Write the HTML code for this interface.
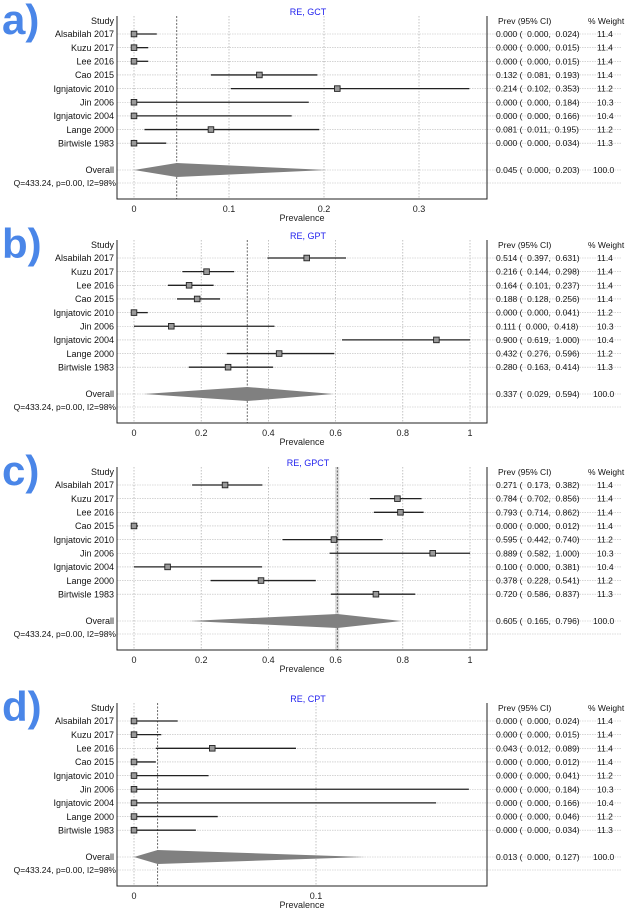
<!DOCTYPE html>
<html><head><meta charset="utf-8"><style>
html,body{margin:0;padding:0;background:#fff;}
svg{display:block;font-family:"Liberation Sans",sans-serif;}
.pre{white-space:pre;}
</style></head><body>
<svg id="c" width="625" height="911" viewBox="0 0 625 911" xmlns="http://www.w3.org/2000/svg"></svg>
<script>
const studies=["Alsabilah 2017","Kuzu 2017","Lee 2016","Cao 2015","Ignjatovic 2010","Jin 2006","Ignjatovic 2004","Lange 2000","Birtwisle 1983"];
const weights=["11.4","11.4","11.4","11.4","11.2","10.3","10.4","11.2","11.3"];
const panelLetters=["a)","b)","c)","d)"];
const panelTitles=["RE, GCT","RE, GPT","RE, GPCT","RE, CPT"];
const gctEst=[0,0,0,0.132,0.214,0,0,0.081,0];
const gctLo=[0,0,0,0.081,0.102,0,0,0.011,0];
const gctHi=[0.024,0.015,0.015,0.193,0.353,0.184,0.166,0.195,0.034];
const gctPooled=[0.045,0,0.203];
const gptEst=[0.514,0.216,0.164,0.188,0,0.111,0.9,0.432,0.28];
const gptLo=[0.397,0.144,0.101,0.128,0,0,0.619,0.276,0.163];
const gptHi=[0.631,0.298,0.237,0.256,0.041,0.418,1,0.596,0.414];
const gptPooled=[0.337,0.029,0.594];
const gpctEst=[0.271,0.784,0.793,0,0.595,0.889,0.1,0.378,0.72];
const gpctLo=[0.173,0.702,0.714,0,0.442,0.582,0,0.228,0.586];
const gpctHi=[0.382,0.856,0.862,0.012,0.74,1,0.381,0.541,0.837];
const gpctPooled=[0.605,0.165,0.796];
const cptEst=[0,0,0.043,0,0,0,0,0,0];
const cptLo=[0,0,0.012,0,0,0,0,0,0];
const cptHi=[0.024,0.015,0.089,0.012,0.041,0.184,0.166,0.046,0.034];
const cptPooled=[0.013,0,0.127];
const gctTicks=[0,0.1,0.2,0.3];
const gptTicks=[0,0.2,0.4,0.6,0.8,1];
const gpctTicks=[0,0.2,0.4,0.6,0.8,1];
const cptTicks=[0,0.1];
const qText="Q=433.24, p=0.00, I2=98%";

const panels=[
 {off:0,est:gctEst,lo:gctLo,hi:gctHi,pooled:gctPooled,ticks:gctTicks,scale:950},
 {off:224,est:gptEst,lo:gptLo,hi:gptHi,pooled:gptPooled,ticks:gptTicks,scale:336},
 {off:451,est:gpctEst,lo:gpctLo,hi:gpctHi,pooled:gpctPooled,ticks:gpctTicks,scale:336},
 {off:687,est:cptEst,lo:cptLo,hi:cptHi,pooled:cptPooled,ticks:cptTicks,scale:1820}
];
const svg=document.getElementById('c');
const NS="http://www.w3.org/2000/svg";
function mk(tag,attrs,parent,text){const e=document.createElementNS(NS,tag);for(const k in attrs)e.setAttribute(k,attrs[k]);if(text!==undefined)e.textContent=text;parent.appendChild(e);return e;}
function f3(v){return v.toFixed(3);}
function fmtTick(v){return v===0?"0":(v===1?"1":String(v));}
panels.forEach((p,pi)=>{
  const g=mk('g',{},svg);
  
  
  const o=p.off;
  const X=v=>134+v*p.scale;
  const rowY=i=>o+34+i*13.65;
  const ovY=o+170, qY=o+183, bot=o+199, top=o+16;
  const L=117,R=487;
  const lt=mk('text',{x:2,y:o+34,'font-size':42,'font-weight':'bold',fill:'#4a86e8'},g,panelLetters[pi]);
  
  
  const tt=mk('text',{x:308,y:o+15,'font-size':9,fill:'#2222ee','text-anchor':'middle'},g,panelTitles[pi]);
  
  
  p.ticks.forEach(t=>{
    const gl=mk('line',{x1:X(t),x2:X(t),y1:top,y2:bot,stroke:'#aaa','stroke-width':0.7,'stroke-dasharray':'1.5,1.5'},g);
    
    
    const tl=mk('text',{x:X(t),y:o+212,'font-size':9,'text-anchor':'middle',fill:'#222'},g,fmtTick(t));
    
    
  });
  const xl=mk('text',{x:302,y:o+221,'font-size':9,'text-anchor':'middle',fill:'#222'},g,'Prevalence');
  
  
  const ys=studies.map((s,i)=>rowY(i)).concat([ovY,qY]);
  ys.forEach(y=>{
    const hl=mk('line',{x1:L,x2:622,y1:y,y2:y,stroke:'#bbb','stroke-width':0.6,'stroke-dasharray':'1.5,1'},g);
    
    
  });
  if(pi===2){const band=mk('rect',{x:X(p.pooled[0])-2,y:top,width:4,height:bot-top,fill:'#ddd'},g);
    }
  const pl=mk('line',{x1:X(p.pooled[0]),x2:X(p.pooled[0]),y1:top,y2:bot,stroke:'#444','stroke-width':0.8,'stroke-dasharray':'2,1.5'},g);
  
  
  const ax=mk('path',{d:`M${L},${top} V${bot} H${R} V${top}`,fill:'none',stroke:'#222','stroke-width':1},g);
  
  
  const sh=mk('text',{x:114,y:o+24,'font-size':9,'text-anchor':'end',fill:'#111'},g,'Study');
  
  const ph=mk('text',{x:498,y:o+24,'font-size':8.5,fill:'#111'},g,'Prev (95% CI)');
  
  const wh=mk('text',{x:588,y:o+24,'font-size':8.5,fill:'#111'},g,'% Weight');
  
  studies.forEach((s,i)=>{
    const y=rowY(i);
    const sl=mk('text',{x:114,y:y+3.2,'font-size':9,'text-anchor':'end',fill:'#111'},g,s);
    
    const ci=mk('line',{x1:X(p.lo[i]),x2:X(p.hi[i]),y1:y,y2:y,stroke:'#222','stroke-width':1.3},g);
    
    const sq=mk('rect',{x:X(p.est[i])-2.8,y:y-2.8,width:5.6,height:5.6,fill:'#999',stroke:'#222','stroke-width':0.9},g);
    
    const vt=mk('text',{x:496,y:y+3,'font-size':8.5,fill:'#111','class':'pre'},g,f3(p.est[i])+" (  "+f3(p.lo[i])+",  "+f3(p.hi[i])+")");
    
    const wt=mk('text',{x:597,y:y+3,'font-size':8.5,fill:'#111'},g,weights[i]);
    
  });
  const ol=mk('text',{x:114,y:ovY+3.2,'font-size':9,'text-anchor':'end',fill:'#111'},g,'Overall');
  
  const dm=mk('polygon',{points:`${X(p.pooled[1])},${ovY} ${X(p.pooled[0])},${ovY-7} ${X(p.pooled[2])},${ovY} ${X(p.pooled[0])},${ovY+7}`,fill:'#808080'},g);
  
  const ov=mk('text',{x:496,y:ovY+3,'font-size':8.5,fill:'#111','class':'pre'},g,f3(p.pooled[0])+" (  "+f3(p.pooled[1])+",  "+f3(p.pooled[2])+")");
  
  const ow=mk('text',{x:593,y:ovY+3,'font-size':8.5,fill:'#111'},g,'100.0');
  
  const q=mk('text',{x:116,y:qY+3,'font-size':8.5,'text-anchor':'end',fill:'#111'},g,qText);
  
});
</script>
</body></html>
